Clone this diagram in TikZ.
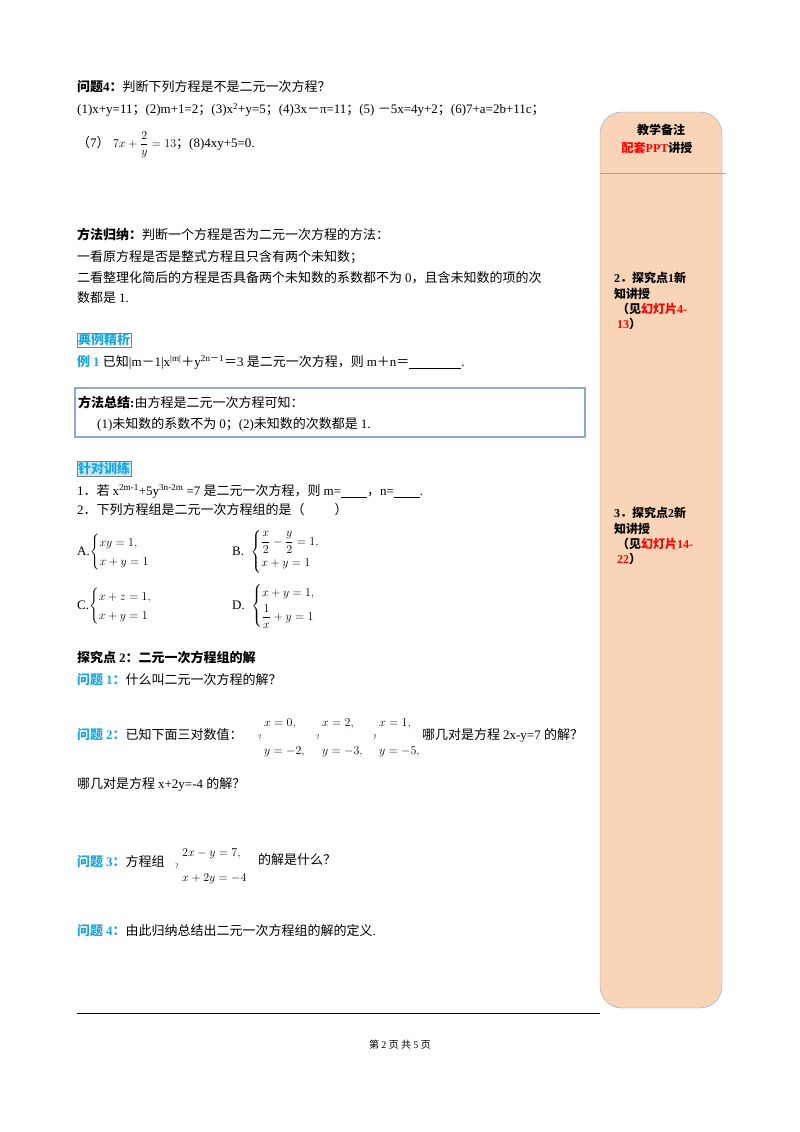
\documentclass[tikz,border=0pt]{standalone}
\usepackage{amsmath}
\usepackage{fontspec}
\setmainfont{Liberation Serif}
\newfontfamily\cjk{Noto Sans CJK SC}
\newfontfamily\lat{Liberation Serif}
\newfontfamily\djvfont{DejaVu Sans}
\XeTeXinterchartokenstate=1
\newXeTeXintercharclass\cjkclass
\count255="4E00
\loop\ifnum\count255<"A000 \XeTeXcharclass\count255=\cjkclass \advance\count255 by 1 \repeat
\count255="3000
\loop\ifnum\count255<"3040 \XeTeXcharclass\count255=\cjkclass \advance\count255 by 1 \repeat
\count255="FF00
\loop\ifnum\count255<"FFF0 \XeTeXcharclass\count255=\cjkclass \advance\count255 by 1 \repeat
\XeTeXinterchartoks 0 \cjkclass = {\cjk}
\XeTeXinterchartoks 4095 \cjkclass = {\cjk}
\XeTeXinterchartoks \cjkclass 0 = {\lat}
\XeTeXinterchartoks 4095 0 = {\lat}
\definecolor{bl}{HTML}{1BA6E0}
\definecolor{peach}{HTML}{F9D4B6}
\definecolor{edge}{HTML}{8EA9CC}
\begin{document}
\begin{tikzpicture}[x=1pt,y=-1pt,
  t/.style={anchor=west,inner sep=0pt,font=\fontsize{13}{16}\selectfont},
  s/.style={anchor=west,inner sep=0pt,font=\fontsize{12}{15}\selectfont\bfseries},
  dm/.style={inner sep=0pt,font=\djvfont\fontsize{7}{7}\selectfont}]
\useasboundingbox (0,0) rectangle (800,1132);
\fill[white] (0,0) rectangle (800,1132);
% sidebar
\draw[edge,fill=peach,rounded corners=22pt] (600,112) rectangle (722,1008);
\draw[edge] (600,173) -- (726,173);
\node[s,anchor=center] (sb1) at (661,130) {教学备注};
\node[s,anchor=center] (sb2) at (657,148) {\color{red}配套PPT\color{black}讲授};
\node[s] (sa1) at (614,278) {2．探究点1新};
\node[s] (sa2) at (614,294) {知讲授};
\node[s] (sa3) at (617,309) {（见\color{red}幻灯片4-};
\node[s] (sa4) at (617,324) {\color{red}13\color{black}）};
\node[s] (sc1) at (614,513) {3．探究点2新};
\node[s] (sc2) at (614,529) {知讲授};
\node[s] (sc3) at (617,544) {（见\color{red}幻灯片14-};
\node[s] (sc4) at (617,559) {\color{red}22\color{black}）};
% main text
\node[t] (q4) at (77,87) {\textbf{问题4：}判断下列方程是不是二元一次方程？};
\node[t] (l1) at (77,110) {(1)x+y=11；(2)m+1=2；(3)x\textsuperscript{2}+y=5；(4)3x－π=11；(5) －5x=4y+2；(6)7+a=2b+11c；};
\node[t] (l7) at (77,145) {（7）$\;7x+\dfrac{2}{y}=13$；(8)4xy+5=0.};
\node[t] (f1) at (77,235) {\textbf{方法归纳：}判断一个方程是否为二元一次方程的方法：};
\node[t] (f2) at (77,257) {一看原方程是否是整式方程且只含有两个未知数；};
\node[t] (f3) at (77,278) {二看整理化简后的方程是否具备两个未知数的系数都不为 0，且含未知数的项的次};
\node[t] (f4) at (77,298) {数都是 1.};
\node[t,draw=gray,inner sep=1pt,text=bl] (dl) at (77,340) {\textbf{典例精析}};
\node[t] (e1) at (77,362) {\textcolor{bl}{\textbf{例 1}} 已知|m－1|x\textsuperscript{|m|}＋y\textsuperscript{2n－1}＝3 是二元一次方程，则 m＋n＝\underline{\hspace{52pt}}.};
\draw[edge,line width=1.2pt] (75,388) rectangle (585,437);
\node[t] (z1) at (78,402) {\textbf{方法总结:}由方程是二元一次方程可知：};
\node[t] (z2) at (97,424) {(1)未知数的系数不为 0；(2)未知数的次数都是 1.};
\node[t,draw=gray,fill=bl!25,inner sep=1pt,text=bl] (zx) at (77,469) {\textbf{针对训练}};
\node[t] (p1) at (77,491) {1．若 x\textsuperscript{2m-1}+5y\textsuperscript{3n-2m} =7 是二元一次方程，则 m=\underline{\hspace{26pt}}，n=\underline{\hspace{26pt}}.};
\node[t] (p2) at (77,510) {2．下列方程组是二元一次方程组的是（\hspace{30pt}）};
\node[t] (oa) at (77,552) {A.$\begin{cases}xy=1,\\ x+y=1\end{cases}$};
\node[t] (ob) at (232,552) {B.\ \ $\begin{cases}\dfrac{x}{2}-\dfrac{y}{2}=1,\\[2pt] x+y=1\end{cases}$};
\node[t] (oc) at (77,606) {C.$\begin{cases}x+z=1,\\ x+y=1\end{cases}$};
\node[t] (od) at (232,606) {D.\ \ $\begin{cases}x+y=1,\\[2pt] \dfrac{1}{x}+y=1\end{cases}$};
\node[t] (t2) at (77,658) {\textbf{探究点 2：二元一次方程组的解}};
\node[t] (w1) at (77,680) {\textcolor{bl}{\textbf{问题 1：}}什么叫二元一次方程的解？};
\node[t] (w2) at (77,735) {\textcolor{bl}{\textbf{问题 2：}}已知下面三对数值：};
\foreach \xx/\a/\b [count=\i] in {260/0/-2,318/2/-3,375/1/-5}{
  \node[dm] (d1\i) at (\xx,724) {◆};
  \node[dm] (d2\i) at (\xx,737) {?};
  \node[dm] (d3\i) at (\xx,752) {◆};
  \node[t] (v1\i) at (\xx+4,724) {$x=\a,$};
  \node[t] (v2\i) at (\xx+4,752) {$y=\b,$};
}
\node[t] (w2b) at (422,735) {哪几对是方程 2x-y=7 的解？};
\node[t] (w2c) at (77,784) {哪几对是方程 x+2y=-4 的解？};
\node[t] (w3) at (77,862) {\textcolor{bl}{\textbf{问题 3：}}方程组};
\node[dm] (e1d) at (177,854) {◆};
\node[dm] (e2d) at (177,866) {?};
\node[dm] (e3d) at (177,879) {◆};
\node[t] (e1t) at (182,854) {$2x-y=7,$};
\node[t] (e2t) at (182,879) {$x+2y=-4$};
\node[t] (w3b) at (258,860) {的解是什么？};
\node[t] (w4) at (77,931) {\textcolor{bl}{\textbf{问题 4：}}由此归纳总结出二元一次方程组的解的定义.};
\draw[line width=0.8pt] (77,1013) -- (600,1013);
\node[t,anchor=center,font=\fontsize{10}{12}\selectfont] (ft) at (400,1045) {第 2 页 共 5 页};
\end{tikzpicture}
\end{document}
